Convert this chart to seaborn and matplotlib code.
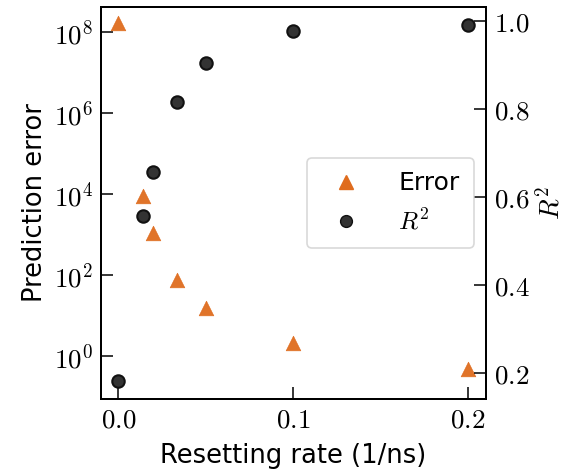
import matplotlib
matplotlib.use("Agg")
import matplotlib.pyplot as plt
import seaborn as sns
import numpy as np
import pandas as pd
from matplotlib.lines import Line2D
from matplotlib.ticker import FixedLocator, NullLocator

# ---- data ----
rates = [0.0, 0.0143, 0.02, 0.0333, 0.05, 0.1, 0.2]
errors = [1.6e8, 9.0e3, 1.1e3, 75.0, 15.5, 2.1, 0.47]
r2_values = [0.181, 0.557, 0.658, 0.816, 0.906, 0.977, 0.991]
x_ticks = [0.0, 0.1, 0.2]
r2_ticks = [0.2, 0.4, 0.6, 0.8, 1.0]
labels = ["Error", r"$R^2$"]

sns.set_style("ticks")
plt.rcParams["font.family"] = ["DejaVu Sans"]
plt.rcParams["mathtext.fontset"] = "cm"
for k in ("text.color", "axes.labelcolor", "xtick.color", "ytick.color",
          "axes.edgecolor"):
    plt.rcParams[k] = "black"

df = pd.DataFrame({"rate": rates, "error": errors, "r2": r2_values})

fig = plt.figure(figsize=(5.65, 4.75), dpi=100)
ax = fig.add_axes([101/565, 1 - 399/475, (486-101)/565, (399-7)/475])

orange = "#DF6C1E"
sns.scatterplot(data=df, x="rate", y="error", ax=ax, marker="^", s=110,
                color=orange, edgecolor=orange, linewidth=0.5, alpha=0.95, zorder=3)
ax.set_yscale("log")
ax.set_xlim(-0.0099, 0.2103)
ax.set_ylim(10**-1.06, 10**8.61)
ax.yaxis.set_major_locator(FixedLocator([1e0, 1e2, 1e4, 1e6, 1e8]))
ax.yaxis.set_minor_locator(NullLocator())
ax.set_yticklabels([r"$10^{0}$", r"$10^{2}$", r"$10^{4}$", r"$10^{6}$", r"$10^{8}$"])
ax.set_xticks(x_ticks)
ax.set_xticklabels([f"${t:.1f}$" for t in x_ticks])
ax.tick_params(direction="in", length=8.5, width=1.1, labelsize=19.5, pad=6)
ax.set_xlabel("Resetting rate (1/ns)", fontsize=18.5, labelpad=7)
ax.set_ylabel("Prediction error", fontsize=18.5, labelpad=4)

ax2 = ax.twinx()
sns.scatterplot(data=df, x="rate", y="r2", ax=ax2, marker="o", s=80,
                color="#333333", edgecolor="#111111", linewidth=1.5, zorder=3)
ax2.set_ylim(0.141, 1.0325)
ax2.set_yticks(r2_ticks)
ax2.set_yticklabels([f"${t:.1f}$" for t in r2_ticks])
ax2.tick_params(direction="in", length=8.5, width=1.1, labelsize=19.5, pad=6)
ax2.set_ylabel(r"$R^2$", fontsize=19.5, labelpad=4)
ax2.set_xlim(-0.0099, 0.2103)

for a in (ax, ax2):
    for s in a.spines.values():
        s.set_linewidth(1.4)
        s.set_color("black")

handles = [
    Line2D([], [], marker="^", linestyle="none", color=orange, markersize=10),
    Line2D([], [], marker="o", linestyle="none", color="#333333",
           markeredgecolor="#111111", markersize=8.5),
]
leg = ax2.legend(handles, labels, loc="center right", fontsize=18,
                 frameon=True, fancybox=True, borderaxespad=0.5,
                 handletextpad=1.1, borderpad=0.55, labelspacing=0.55)
leg.get_frame().set_edgecolor("#d0d0d0")
leg.get_frame().set_linewidth(1.2)

fig.savefig("out.png", dpi=100)
